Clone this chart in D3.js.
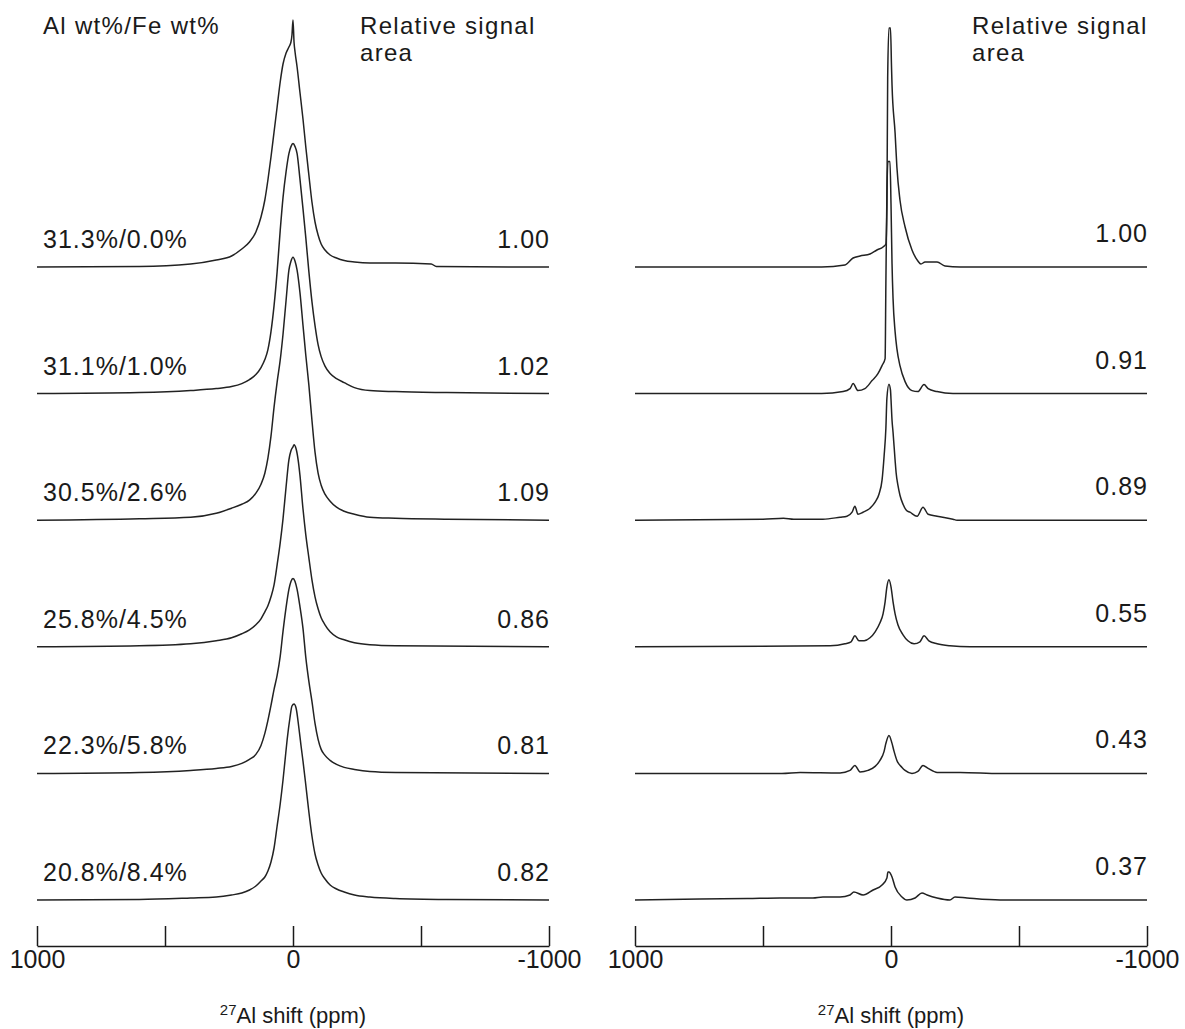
<!DOCTYPE html>
<html>
<head>
<meta charset="utf-8">
<script src="https://cdn.jsdelivr.net/npm/d3@7"></script>
<style>
  body { margin: 0; background: #fff; }
  text { font-family: "Liberation Sans", Arial, sans-serif; fill: #1a1a1a; }
</style>
</head>
<body>
<div id="chart-area"></div>
<script>
// sample compositions (Al wt% / Fe wt%) and relative signal areas
const compositions = ["31.3%/0.0%", "31.1%/1.0%", "30.5%/2.6%", "25.8%/4.5%", "22.3%/5.8%", "20.8%/8.4%"]
const leftAreas = ["1.00", "1.02", "1.09", "0.86", "0.81", "0.82"]
const rightAreas = ["1.00", "0.91", "0.89", "0.55", "0.43", "0.37"]
const shiftTicks = [1000, 500, 0, -500, -1000]

// spectra: [27Al shift (ppm), intensity (a.u.)]
const leftSpectra = [
  [[1000,0],[600,0.2],[400,1.2],[300,2.8],[240,4.4],[200,7.2],[170,10],[145,14],[125,20],[110,26.8],[98,34.8],[86,44],[74,54],[62,64],[50,74],[39,81.2],[27,85.6],[16,88],[8,90],[4,92.8],[0,98.8],[-4,90],[-8,86],[-16,80],[-27,70],[-39,59.2],[-50,48],[-62,36.8],[-74,26],[-86,18],[-98,12.8],[-110,9.2],[-125,6.8],[-145,4.8],[-170,3.6],[-200,2.6],[-240,2],[-300,1.6],[-400,1.6],[-540,1.2],[-560,0.2],[-1000,0]],
  [[1000,0],[600,0.4],[400,1.2],[300,2],[240,2.8],[200,4],[170,5.6],[145,7.6],[125,10.4],[110,13.6],[98,17.6],[86,24.8],[74,35.2],[62,48.8],[50,65.2],[39,78.4],[27,88.8],[16,96],[8,98.8],[0,100],[-8,98.8],[-16,96],[-27,86],[-39,74],[-50,62.4],[-62,48.8],[-74,36.8],[-86,27.2],[-98,19.6],[-110,14.8],[-125,11],[-145,8],[-170,6],[-200,4.4],[-240,2.4],[-300,1.2],[-400,0.8],[-600,0.4],[-1000,0]],
  [[1000,0],[600,0.6],[400,1.2],[300,2.8],[240,4.8],[200,6.4],[170,8],[145,10.8],[125,14.4],[110,18.8],[98,24.8],[86,33.6],[74,45.2],[62,55.2],[50,64],[39,74.4],[27,88],[16,100],[8,103.6],[0,105.2],[-8,103.6],[-16,100],[-27,91.2],[-39,78],[-50,66],[-62,54],[-74,40],[-86,27.2],[-98,18.8],[-110,14],[-125,10.4],[-145,7.6],[-170,5.2],[-200,3.6],[-240,2.4],[-300,1.2],[-400,0.8],[-600,0.4],[-1000,0]],
  [[1000,0],[600,0.4],[400,1.2],[300,2.4],[240,3.6],[200,5.2],[170,6.8],[145,8.8],[125,11.2],[110,14],[98,16.4],[86,20],[74,24.8],[62,32.8],[50,41.6],[39,51.2],[27,64],[16,74.8],[8,78.4],[0,80],[-4,80.8],[-12,79.2],[-20,74.8],[-27,68.8],[-39,55.2],[-50,44.8],[-62,35.6],[-74,26.8],[-86,20],[-98,15.2],[-110,11.6],[-125,8.8],[-145,6],[-170,4],[-200,2.8],[-240,1.6],[-300,0.8],[-400,0.4],[-1000,0]],
  [[1000,0],[600,0.4],[400,1.2],[300,2],[240,2.8],[200,4],[170,5.6],[145,7.6],[125,11.2],[110,16],[98,21.2],[86,27.2],[74,33.6],[62,39.2],[50,46.8],[39,56.8],[27,66.4],[16,73.6],[8,76.8],[0,78],[-8,76.8],[-16,73.6],[-27,66.8],[-39,58],[-50,46.4],[-62,36.8],[-74,28.8],[-86,20],[-98,13.6],[-110,9.6],[-125,7.2],[-145,5.2],[-170,3.6],[-200,2.4],[-240,1.6],[-300,0.8],[-400,0.4],[-1000,0]],
  [[1000,0],[600,0.2],[400,0.8],[300,1.2],[240,2],[200,2.8],[170,4],[145,5.6],[125,7.6],[110,9.2],[98,11.6],[86,15.2],[74,20.8],[62,29.6],[50,38.4],[39,48],[31,56],[23,64],[12,72.8],[4,77.6],[-4,78.4],[-12,76.8],[-23,68.8],[-31,62],[-39,55.6],[-50,46],[-62,35.2],[-74,25.6],[-86,18.4],[-98,14],[-110,10.8],[-125,8.4],[-145,6],[-170,4.4],[-200,3.2],[-240,2],[-300,1.2],[-400,0.6],[-600,0.2],[-1000,0]]
]

const rightSpectra = [
  [[1000,0],[700,0],[271,0],[180,0.8],[148,3.6],[121,4.4],[82,5.2],[55,6.8],[31,8],[20,9.2],[16,24],[13,75.6],[8,95.6],[2,95.6],[-2,80],[-4,72.8],[-16,53.6],[-23,40],[-35,26.8],[-55,16],[-82,6.8],[-105,2.4],[-117,1.2],[-133,2],[-180,2],[-211,0.4],[-270,0],[-1000,0]],
  [[1000,0],[271,0],[187,0.8],[160,2],[148,4],[129,1.2],[102,2],[74,5.2],[51,8],[35,11.2],[23,14],[20,44],[16,80],[12,92.8],[4,92.8],[0,76],[-4,52],[-8,38],[-16,24.8],[-23,18],[-35,11.2],[-55,4.8],[-82,1.2],[-105,0.8],[-129,3.6],[-145,2],[-180,0.8],[-242,0],[-1000,0]],
  [[1000,0],[500,0.4],[420,0.8],[380,0.4],[266,0.4],[199,1.2],[172,1.6],[152,3.2],[141,5.6],[129,2.4],[109,3.2],[82,4.8],[62,7.2],[47,10.4],[35,16],[27,25.6],[20,36.8],[16,48.8],[8,54.4],[2,52],[0,48.4],[-4,40],[-8,35.2],[-16,24],[-20,19],[-27,14],[-35,10],[-47,6.4],[-60,4],[-74,3.2],[-102,1.6],[-125,5.2],[-145,2.4],[-180,1.6],[-242,0.4],[-258,0],[-1000,0]],
  [[1000,0],[238,0.4],[180,1.2],[156,2],[141,4.4],[125,2.4],[105,2.4],[82,3.6],[62,6],[43,9.6],[31,13.2],[23,18],[16,24],[8,26.8],[0,24],[-8,18],[-16,13.2],[-27,8.8],[-47,4.8],[-66,2.4],[-90,1.2],[-113,2],[-129,4.4],[-148,2.4],[-180,1.2],[-230,0.4],[-309,0],[-1000,0]],
  [[1000,0],[426,0],[355,0.4],[199,0.2],[160,1.2],[141,3.2],[121,0.6],[90,1.2],[62,2.8],[43,5.2],[27,8.8],[20,12],[8,15.2],[-4,12],[-12,8.8],[-23,5.2],[-43,2.4],[-55,1.2],[-82,0],[-105,0.8],[-125,3.2],[-145,2],[-180,0.4],[-270,0.4],[-426,0],[-1000,0]],
  [[1000,0],[746,0.4],[560,0.6],[434,0.8],[305,0.8],[266,1.2],[199,1.2],[160,2],[145,3.2],[109,2],[70,4],[35,6],[16,8.8],[12,11.2],[8,11.2],[-4,9.2],[-16,5.2],[-43,1.2],[-62,0],[-94,0.8],[-121,2.8],[-141,2],[-180,0.8],[-230,0],[-250,1.2],[-297,0.8],[-426,0],[-1000,0]]
]

const WIDTH = 1185
const HEIGHT = 1029
const PANEL_W = 512
const AXIS_Y = 946
const FONT = 25

const svg = d3.select("#chart-area").append("svg")
  .attr("width", WIDTH)
  .attr("height", HEIGHT)

// vertical offset of each stacked spectrum, and intensity -> pixel height
const baseY = d3.scaleLinear().domain([0, 5]).range([267, 900])
const amp = d3.scaleLinear().domain([0, 100]).range([0, 250])

const panels = [
  { left: 37, spectra: leftSpectra, areas: leftAreas, labels: compositions, labelDy: -19, header: "Al wt%/Fe wt%", hx: 323 },
  { left: 635, spectra: rightSpectra, areas: rightAreas, labels: null, labelDy: -25, header: null, hx: 337 }
]

panels.forEach(p => {
  const g = svg.append("g").attr("transform", `translate(${p.left},0)`)

  const x = d3.scaleLinear().domain([1000, -1000]).range([0, PANEL_W])

  const line = d3.line()
    .x(d => x(d[0]))
    .y(d => -amp(d[1]))
    .curve(d3.curveMonotoneX)

  g.selectAll(".spec")
    .data(p.spectra)
    .join("path")
    .attr("class", "spec")
    .attr("transform", (d, i) => `translate(0,${baseY(i)})`)
    .attr("fill", "none")
    .attr("stroke", "#222")
    .attr("stroke-width", 1.5)
    .attr("stroke-linejoin", "round")
    .attr("d", line)

  // sample labels on the left, signal areas on the right
  if (p.labels) {
    g.selectAll(".comp")
      .data(p.labels)
      .join("text")
      .attr("class", "comp")
      .attr("x", 6)
      .attr("y", (d, i) => baseY(i) + p.labelDy)
      .attr("font-size", FONT)
      .attr("letter-spacing", 1)
      .text(d => d)
  }
  g.selectAll(".area")
    .data(p.areas)
    .join("text")
    .attr("class", "area")
    .attr("x", PANEL_W + 1)
    .attr("y", (d, i) => baseY(i) + p.labelDy)
    .attr("text-anchor", "end")
    .attr("font-size", FONT)
    .attr("letter-spacing", 1)
    .text(d => d)

  // headers
  if (p.header) {
    g.append("text").attr("x", 6).attr("y", 34).attr("font-size", 24)
      .attr("letter-spacing", 1.3).text(p.header)
  }
  g.append("text").attr("x", p.hx).attr("y", 34).attr("font-size", 24)
    .attr("letter-spacing", 1.3).text("Relative signal")
  g.append("text").attr("x", p.hx).attr("y", 61).attr("font-size", 24)
    .attr("letter-spacing", 1.3).text("area")

  // shift axis: ticks point up, labels below
  const axis = g.append("g")
    .attr("transform", `translate(0,${AXIS_Y})`)
    .call(d3.axisBottom(x)
      .tickValues(shiftTicks)
      .tickSizeInner(-20)
      .tickSizeOuter(0)
      .tickPadding(4)
      .tickFormat(d => Math.abs(d) === 500 ? "" : String(d)))
  axis.attr("font-size", FONT).attr("font-family", null).attr("color", "#1a1a1a")
  axis.selectAll("line, path").attr("stroke-width", 1.5)

  const title = g.append("text")
    .attr("x", PANEL_W / 2)
    .attr("y", 1023)
    .attr("text-anchor", "middle")
    .attr("font-size", 22)
  title.append("tspan").attr("font-size", 15).attr("dy", -8).text("27")
  title.append("tspan").attr("dy", 8).text("Al shift (ppm)")
})
</script>
</body>
</html>
